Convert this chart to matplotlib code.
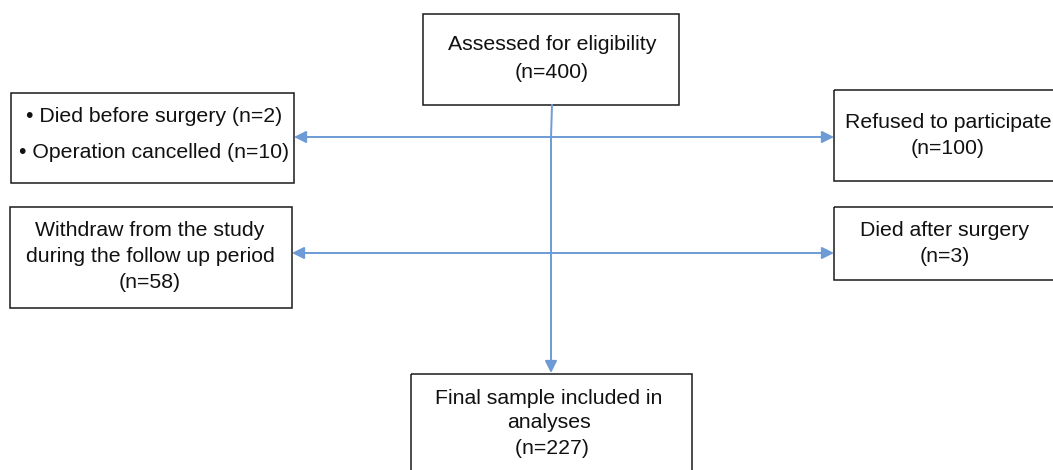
import matplotlib.pyplot as plt
from matplotlib.patches import Rectangle

plt.rcParams['font.family'] = ['Liberation Sans', 'DejaVu Sans']

# flow chart content
assessed_n = 400
refused_n = 100
died_before_n = 2
cancelled_n = 10
withdraw_n = 58
died_after_n = 3
final_n = 227

box_texts = {
    'top': ['Assessed for eligibility', '(n=%d)' % assessed_n],
    'left1': ['\u2022 Died before surgery (n=%d)' % died_before_n,
              '\u2022 Operation cancelled (n=%d)' % cancelled_n],
    'right1': ['Refused to participate', '(n=%d)' % refused_n],
    'left2': ['Withdraw from the study', 'during the follow up period', '(n=%d)' % withdraw_n],
    'right2': ['Died after surgery', '(n=%d)' % died_after_n],
    'bottom': ['Final sample included in', 'analyses', ' (n=%d)' % final_n],
}

# box geometry in pixels: x0, y0, x1, y1, first text line y, line step
boxes = {
    'top': (423, 14, 679, 105, 45, 27),
    'left1': (11, 93, 294, 183, 117, 36),
    'right1': (834, 90, 1070, 181, 122, 26),
    'left2': (10, 207, 292, 308, 231, 25.5),
    'right2': (834, 207, 1070, 280, 230, 27),
    'bottom': (411, 374, 692, 480, 398, 25),
}
text_x = {'top': 552, 'left1': 154, 'right1': 948, 'left2': 150,
          'right2': 945, 'bottom': 549}

fig = plt.figure(figsize=(10.53, 4.70), dpi=100)
ax = fig.add_axes([0, 0, 1, 1])
ax.set_xlim(0, 1053)
ax.set_ylim(470, 0)
ax.axis('off')

for key, (x0, y0, x1, y1, ty, dy) in boxes.items():
    ax.add_patch(Rectangle((x0, y0), x1 - x0, y1 - y0, fill=False,
                           edgecolor='#1a1a1a', linewidth=1.1))
    for i, line in enumerate(box_texts[key]):
        ax.text(text_x[key], ty + i * dy, line, ha='center', va='center',
                fontsize=15.3, color='#111111')

blue = '#6E9BD5'
arrow = dict(arrowstyle='-|>', color=blue, lw=1.4, mutation_scale=18,
             shrinkA=0, shrinkB=0)

# vertical trunk
ax.plot([552, 551], [105, 138], color=blue, lw=1.4)
ax.annotate('', xy=(551, 373), xytext=(551, 137), arrowprops=arrow)

# horizontal double arrows
for y, xl, xr in [(137, 294, 834), (253, 292, 834)]:
    ax.annotate('', xy=(xl, y), xytext=(551, y), arrowprops=arrow)
    ax.annotate('', xy=(xr, y), xytext=(551, y), arrowprops=arrow)

fig.savefig('out.png', dpi=100)
